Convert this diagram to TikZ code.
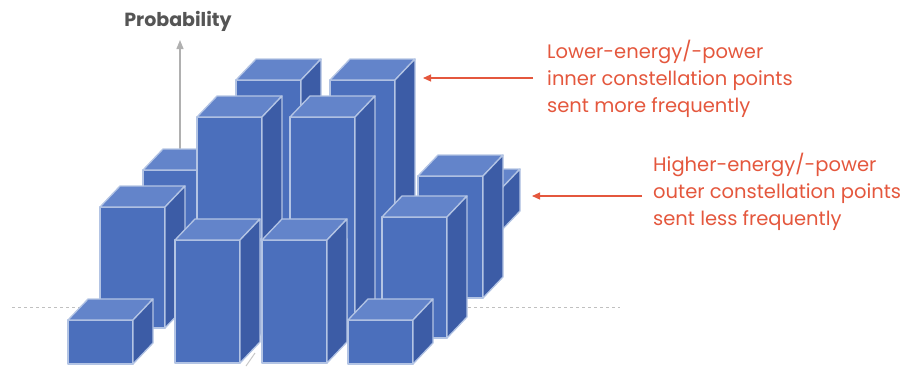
\documentclass[tikz,border=0pt]{standalone}
\usepackage{fontspec}
\setmainfont{Poppins}
\usepackage{tikz}
\usetikzlibrary{arrows.meta}
\definecolor{barFront}{HTML}{4B6FBC}
\definecolor{barTop}{HTML}{6384CA}
\definecolor{barSide}{HTML}{3C5CA6}
\definecolor{barEdge}{HTML}{B3C4E4}
\definecolor{inkG}{HTML}{555555}
\definecolor{axisG}{HTML}{B0B0B0}
\definecolor{noteR}{HTML}{E4573D}

\tikzset{
  barface/.style={draw=barEdge, line width=1.3pt, line join=round},
  notetext/.style={font=\fontsize{19.5}{27}\selectfont, text=noteR, align=left, anchor=base west, inner sep=0pt},
  notearrow/.style={noteR, line width=1.1pt, -{Triangle[length=8pt,width=7pt]}}
}

% one bar: left x, top y, bottom y of the front face
\newcommand{\qambar}[3]{%
  \fill[barFront, barface] (#1,#3) rectangle (#1+65,#2);
  \fill[barTop, barface] (#1,#2) -- (#1+20,#2-21) -- (#1+85,#2-21) -- (#1+65,#2) -- cycle;
  \fill[barSide, barface] (#1+65,#2) -- (#1+85,#2-21) -- (#1+85,#3-21) -- (#1+65,#3) -- cycle;
}

\begin{document}
\begin{tikzpicture}[x=1pt, y=-1pt]
\useasboundingbox (0,0) rectangle (909,368);
\draw[axisG!80, line width=1pt, dash pattern=on 3pt off 3pt] (12,307) -- (620,307);
\coordinate (axbase) at (180,200);
\coordinate (axtip) at (180,40);
\draw[axisG, line width=1.2pt, -{Triangle[length=9pt,width=7pt]}] (axbase) -- (axtip);
\draw[axisG!70, line width=1pt] (246,366) -- (255,353);
\qambar{236}{80}{300}
\qambar{330}{80}{300}
\qambar{435}{190}{232}
\qambar{143}{170}{300}
\qambar{197}{117}{300}
\qambar{290}{117}{330}
\qambar{418}{176}{298}
\qambar{100}{207}{328}
\qambar{176}{260}{355}
\qambar{262}{260}{355}
\qambar{382}{217}{338}
\qambar{68}{320}{364}
\qambar{175}{240}{363}
\qambar{262}{240}{363}
\qambar{348}{320}{364}
\node[font=\bfseries\fontsize{19}{20}\selectfont, text=inkG] (probl) at (178,21) {Probability};
\node[notetext] (lowtxt) at (547,112) {Lower-energy/-power\\inner constellation points\\sent more frequently};
\node[notetext] (hightxt) at (653,225) {Higher-energy/-power\\outer constellation points\\sent less frequently};
\coordinate (lowtip) at (423,78);
\coordinate (hightip) at (532,196);
\draw[notearrow] (lowtxt.west |- lowtip) ++(-14,0) -- (lowtip);
\draw[notearrow] (hightxt.west |- hightip) ++(-11,0) -- (hightip);
\end{tikzpicture}
\end{document}
